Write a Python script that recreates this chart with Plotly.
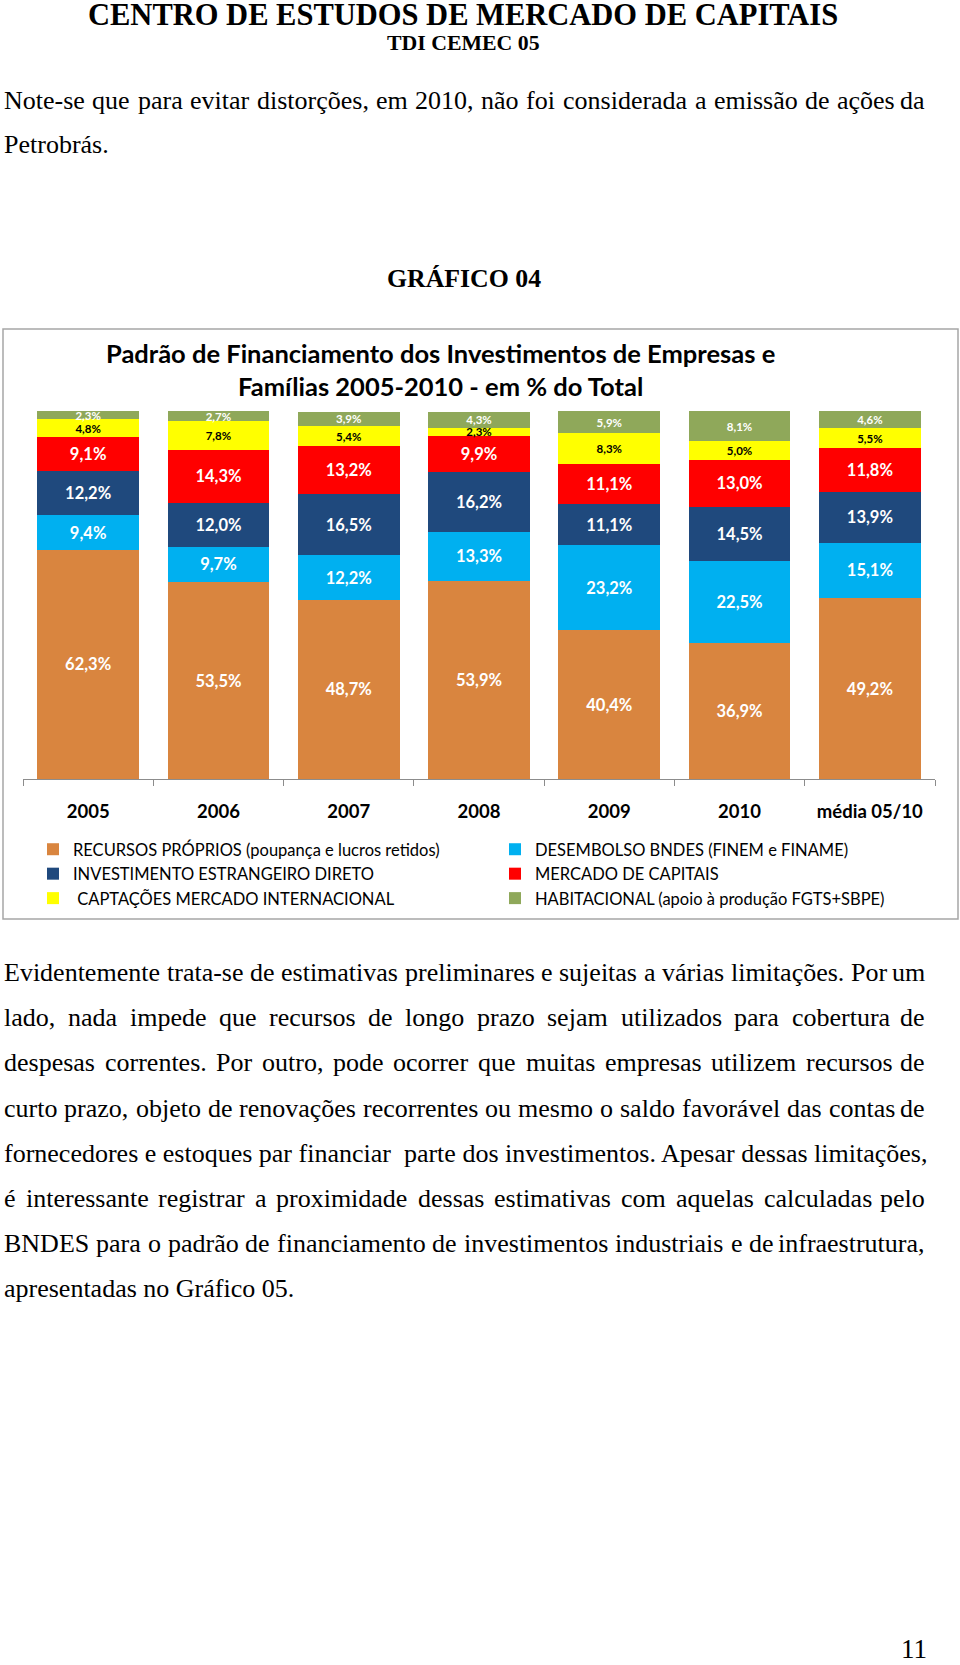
import plotly.graph_objects as go

# ---------------- data ----------------
categories = ["2005", "2006", "2007", "2008", "2009", "2010", "média 05/10"]
recursos_proprios = [62.3, 53.5, 48.7, 53.9, 40.4, 36.9, 49.2]
desembolso_bndes = [9.4, 9.7, 12.2, 13.3, 23.2, 22.5, 15.1]
invest_estrangeiro = [12.2, 12.0, 16.5, 16.2, 11.1, 14.5, 13.9]
mercado_capitais = [9.1, 14.3, 13.2, 9.9, 11.1, 13.0, 11.8]
captacoes_internac = [4.8, 7.8, 5.4, 2.3, 8.3, 5.0, 5.5]
habitacional = [2.3, 2.7, 3.9, 4.3, 5.9, 8.1, 4.6]

series_names = [
    "RECURSOS PRÓPRIOS (poupança e lucros retidos)",
    "DESEMBOLSO BNDES (FINEM e FINAME)",
    "INVESTIMENTO ESTRANGEIRO DIRETO",
    "MERCADO DE CAPITAIS",
    " CAPTAÇÕES MERCADO INTERNACIONAL",
    "HABITACIONAL (apoio à produção FGTS+SBPE)",
]
series_values = [recursos_proprios, desembolso_bndes, invest_estrangeiro,
                 mercado_capitais, captacoes_internac, habitacional]
series_colors = ["#D9853F", "#00B0F0", "#1F497D", "#FF0000", "#FFFF00", "#8FA85A"]
label_colors = ["#FFFFFF", "#FFFFFF", "#FFFFFF", "#FFFFFF", "#000000", "#FFFFFF"]
label_sizes = [16.5, 16.5, 16.5, 16.5, 11.5, 11.5]

W, H = 960, 1665


def px(x):
    return x / W


def py(y):
    return 1 - y / H


fig = go.Figure()
for name, vals, col, lc, ls in zip(series_names, series_values, series_colors,
                                   label_colors, label_sizes):
    fig.add_trace(go.Bar(
        x=categories, y=vals, name=name,
        marker=dict(color=col, line=dict(width=0)),
        texttemplate="%{y:.1f}%", textposition="inside",
        insidetextanchor="middle", textangle=0, constraintext="none",
        insidetextfont=dict(family="Lato", size=ls, color=lc, weight="bold"),
        hoverinfo="skip",
    ))

# ---------------- text helpers ----------------
TNR = {' ': 250, 'a': 444, 'b': 500, 'c': 444, 'd': 500, 'e': 444, 'f': 333, 'g': 500,
       'h': 500, 'i': 278, 'j': 278, 'k': 500, 'l': 278, 'm': 778, 'n': 500, 'o': 500,
       'p': 500, 'q': 500, 'r': 333, 's': 389, 't': 278, 'u': 500, 'v': 500, 'w': 722,
       'x': 500, 'y': 500, 'z': 444, 'A': 722, 'B': 667, 'C': 667, 'D': 722, 'E': 611,
       'F': 556, 'G': 722, 'H': 722, 'I': 333, 'J': 389, 'K': 722, 'L': 611, 'M': 889,
       'N': 722, 'O': 722, 'P': 556, 'Q': 722, 'R': 667, 'S': 556, 'T': 611, 'U': 722,
       'V': 722, 'W': 944, 'X': 722, 'Y': 722, 'Z': 611, ',': 250, '.': 250, '-': 333,
       'á': 444, 'à': 444, 'ã': 444, 'â': 444, 'é': 444, 'ê': 444, 'í': 278, 'ó': 500,
       'õ': 500, 'ô': 500, 'ú': 500, 'ç': 444, 'Á': 722}


def tw(s, size):
    return sum(TNR.get(c, 500) for c in s) / 1000.0 * size


annotations = []
BODY = "Liberation Serif"
BS = 26


def add_text(text, x, y, size, bold=False, anchor="left", family=BODY, color="#000000"):
    annotations.append(dict(
        text=text, x=px(x), y=py(y), xref="paper", yref="paper",
        xanchor=anchor, yanchor="middle", showarrow=False, borderpad=0,
        font=dict(family=family, size=size, color=color, weight="bold" if bold else "normal"),
    ))


def add_line(text, y, justify, L=3, R=926, size=BS):
    if not justify:
        add_text(text, L, y, size)
        return
    words = text.split()
    widths = [tw(w, size) for w in words]
    gap = (R - L - sum(widths)) / (len(words) - 1)
    if gap < 0.25 * size:
        add_text(text, L, y, size)
        return
    x = L
    for i, (w, wd) in enumerate(zip(words, widths)):
        if i == len(words) - 1:
            add_text(w, R, y, size, anchor="right")
        else:
            add_text(w, x, y, size)
        x += wd + gap


# header
add_text("CENTRO DE ESTUDOS DE MERCADO DE CAPITAIS", 463, 15, 30.5, bold=True, anchor="center")
add_text("TDI CEMEC 05", 463, 43.5, 21.8, bold=True, anchor="center")

add_line("Note-se que para evitar distorções, em 2010, não foi considerada a emissão de ações da", 100.5, True)
add_line("Petrobrás.", 144.5, False)

add_text("GRÁFICO 04", 464, 278.5, 25.8, bold=True, anchor="center")

# chart title
add_text("Padrão de Financiamento dos Investimentos de Empresas e", 440, 353, 25.5,
         bold=True, anchor="center", family="Lato")
add_text("Famílias 2005-2010 - em % do Total", 440, 386, 25.5,
         bold=True, anchor="center", family="Lato")

para = [
    ("Evidentemente trata-se de estimativas preliminares e sujeitas a várias limitações. Por um", True),
    ("lado, nada impede que recursos de longo prazo sejam utilizados para cobertura de", True),
    ("despesas correntes. Por outro, pode ocorrer que muitas empresas utilizem recursos de", True),
    ("curto prazo, objeto de renovações recorrentes ou mesmo o saldo favorável das contas de", True),
    ("fornecedores e estoques par financiar  parte dos investimentos. Apesar dessas limitações,", False),
    ("é interessante registrar a proximidade dessas estimativas com aquelas calculadas pelo", True),
    ("BNDES para o padrão de financiamento de investimentos industriais e de infraestrutura,", True),
    ("apresentadas no Gráfico 05.", False),
]
para_y = [972.5, 1017.5, 1062.5, 1108.5, 1153.5, 1198.5, 1243.5, 1288.5]
for (t, j), yy in zip(para, para_y):
    add_line(t, yy, j)

add_text("11", 914, 1649, 27, anchor="center")

fig.update_layout(
    width=W, height=H,
    margin=dict(l=0, r=0, t=0, b=0),
    paper_bgcolor="white", plot_bgcolor="white",
    barmode="stack", bargap=0.22,
    separators=",.",
    showlegend=True,
    legend=dict(
        orientation="h", x=px(33), y=py(832), xanchor="left", yanchor="top",
        entrywidth=417, entrywidthmode="pixels", traceorder="normal",
        font=dict(family="Lato", size=16.5, color="#000000"),
        bgcolor="rgba(0,0,0,0)",
    ),
    xaxis=dict(
        domain=[px(23), px(935)], type="category",
        showline=True, linecolor="#8C8C8C", linewidth=1,
        ticks="outside", tickson="boundaries", ticklen=6, tickcolor="#8C8C8C",
        ticklabelstandoff=16,
        tickfont=dict(family="Lato", size=18.5, color="#000000", weight="bold"),
        showgrid=False, zeroline=False, fixedrange=True,
    ),
    yaxis=dict(
        domain=[py(779), py(411)], range=[0, 100.1], visible=False,
        showgrid=False, zeroline=False, fixedrange=True,
    ),
    annotations=annotations,
    shapes=[dict(type="rect", xref="paper", yref="paper",
                 x0=px(3), x1=px(958), y0=py(919), y1=py(329),
                 line=dict(color="#A6A6A6", width=1.5), fillcolor="rgba(0,0,0,0)",
                 layer="below")],
)

fig.write_html("out.html")
